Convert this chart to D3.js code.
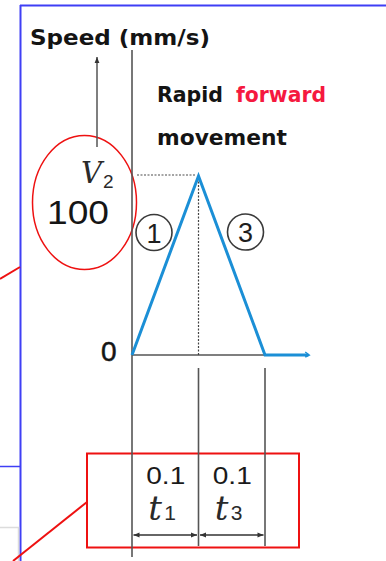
<!DOCTYPE html>
<html>
<head>
<meta charset="utf-8">
<script src="https://cdn.jsdelivr.net/npm/d3@7"></script>
<style>
  html, body { margin: 0; padding: 0; background: #fff; }
  svg { display: block; }
</style>
</head>
<body>
<div id="chart"></div>
<script>
// Speed profile of a rapid forward movement: accelerate (1), decelerate (3)
const timePoints = [0, 0.1, 0.2, 0.265];   // s
const speedValues = [0, 100, 0, 0];        // mm/s
const yTickValues = [0, 100];
const yTickLabels = ["0", "100"];
const phaseNumbers = ["1", "3"];
const phaseStart = [0, 0.1];
const phaseDurations = [0.1, 0.1];
const durationLabels = ["0.1", "0.1"];
const durationSubs = ["1", "3"];

const W = 386, H = 561;
const svg = d3.select("#chart").append("svg").attr("width", W).attr("height", H);

const x = d3.scaleLinear().domain([0, 0.2]).range([132, 265]);
const y = d3.scaleLinear().domain([0, 100]).range([355, 176]);

const axisColor = "#555";
const lineBlue = "#1b8fd6";
const frameBlue = "#3f3ff5";
const red = "#ee1111";

// arrow markers
const defs = svg.append("defs");
defs.append("marker").attr("id", "arrEnd").attr("viewBox", "0 0 10 10")
  .attr("refX", 10).attr("refY", 5).attr("markerWidth", 8).attr("markerHeight", 6)
  .attr("markerUnits", "userSpaceOnUse").attr("orient", "auto")
  .append("path").attr("d", "M0,1 L10,5 L0,9 Z").attr("fill", "#333");
defs.append("marker").attr("id", "arrStart").attr("viewBox", "0 0 10 10")
  .attr("refX", 0).attr("refY", 5).attr("markerWidth", 8).attr("markerHeight", 6)
  .attr("markerUnits", "userSpaceOnUse").attr("orient", "auto")
  .append("path").attr("d", "M10,1 L0,5 L10,9 Z").attr("fill", "#333");

// surrounding frame lines
svg.append("line").attr("x1", 20).attr("y1", 5.5).attr("x2", W).attr("y2", 5.5)
  .attr("stroke", frameBlue).attr("stroke-width", 2);
svg.append("line").attr("x1", 20.5).attr("y1", 5).attr("x2", 20.5).attr("y2", H)
  .attr("stroke", frameBlue).attr("stroke-width", 2);
svg.append("line").attr("x1", 0).attr("y1", 466.5).attr("x2", 20).attr("y2", 466.5)
  .attr("stroke", frameBlue).attr("stroke-width", 1.5);
svg.append("path").attr("d", "M0,527.5 H18.5 V561")
  .attr("fill", "none").attr("stroke", "#dcdcdc").attr("stroke-width", 1.5);

// red callout marks
svg.append("line").attr("x1", 0).attr("y1", 279).attr("x2", 20).attr("y2", 267)
  .attr("stroke", red).attr("stroke-width", 2);
svg.append("line").attr("x1", 13).attr("y1", 561).attr("x2", 87).attr("y2", 502)
  .attr("stroke", red).attr("stroke-width", 2);
svg.append("ellipse").attr("cx", 84.5).attr("cy", 202.5).attr("rx", 52).attr("ry", 67)
  .attr("fill", "none").attr("stroke", red).attr("stroke-width", 1.5);
svg.append("rect").attr("x", 87).attr("y", 453.5).attr("width", 212).attr("height", 94)
  .attr("fill", "none").attr("stroke", red).attr("stroke-width", 2);

const boldText = (tx, ty, len, color, s) =>
  svg.append("text").attr("x", tx).attr("y", ty)
    .attr("font-family", "DejaVu Sans").attr("font-weight", "bold").attr("font-size", 22)
    .attr("fill", color).attr("textLength", len).attr("lengthAdjust", "spacingAndGlyphs")
    .text(s);

// axis title and arrow
boldText(30, 45, 180, "#141414", "Speed (mm/s)");
svg.append("line").attr("x1", 97).attr("y1", 147).attr("x2", 97).attr("y2", 57)
  .attr("stroke", "#555").attr("stroke-width", 1.5).attr("marker-end", "url(#arrEnd)");

// annotation text
boldText(157, 102, 66, "#141414", "Rapid");
boldText(236, 102, 90, "#f5193f", "forward");
boldText(157, 145, 130, "#141414", "movement");

// vertical axis and base line
svg.append("line").attr("x1", x(0)).attr("y1", 50).attr("x2", x(0)).attr("y2", 557)
  .attr("stroke", axisColor).attr("stroke-width", 1.6);
svg.append("line").attr("x1", x(0)).attr("y1", y(0)).attr("x2", x(0.2)).attr("y2", y(0))
  .attr("stroke", axisColor).attr("stroke-width", 1.6);

// y tick labels
svg.append("text").attr("x", 101).attr("y", y(yTickValues[0]) + 6)
  .attr("font-family", "Liberation Sans").attr("font-size", 28)
  .attr("fill", "#151515").attr("stroke", "#151515").attr("stroke-width", 0.5)
  .text(yTickLabels[0]);
svg.append("text").attr("x", 47).attr("y", 224)
  .attr("font-family", "Liberation Sans").attr("font-size", 33)
  .attr("fill", "#151515").attr("textLength", 62).attr("lengthAdjust", "spacingAndGlyphs")
  .text(yTickLabels[1]);

// V2 symbol
const v2 = svg.append("text").attr("x", 81).attr("y", 183).attr("fill", "#2a2a2a");
v2.append("tspan").attr("font-family", "DejaVu Serif").attr("font-style", "italic")
  .attr("font-size", 29).text("V");
v2.append("tspan").attr("x", 103).attr("y", 188).attr("font-family", "Liberation Sans")
  .attr("font-size", 19).text("2");

// peak guide lines
const peakIdx = speedValues.indexOf(d3.max(speedValues));
svg.append("line").attr("x1", x(0) + 5).attr("y1", y(speedValues[peakIdx]) - 1)
  .attr("x2", x(timePoints[peakIdx]) - 3).attr("y2", y(speedValues[peakIdx]) - 1)
  .attr("stroke", "#888").attr("stroke-width", 1.3).attr("stroke-dasharray", "2,1.5");
svg.append("line").attr("x1", x(timePoints[peakIdx])).attr("y1", y(speedValues[peakIdx]) + 2)
  .attr("x2", x(timePoints[peakIdx])).attr("y2", y(0))
  .attr("stroke", "#444").attr("stroke-width", 1.2).attr("stroke-dasharray", "2,1.5");

// speed profile
const pts = timePoints.map((t, i) => [t, speedValues[i]]);
svg.append("path").datum(pts)
  .attr("d", d3.line().x(d => x(d[0])).y(d => y(d[1])))
  .attr("fill", "none").attr("stroke", lineBlue).attr("stroke-width", 3)
  .attr("stroke-linejoin", "miter");
// tiny arrow tip at end of profile
const last = pts[pts.length - 1];
svg.append("path")
  .attr("d", `M${x(last[0]) - 3},${y(0) - 3} L${x(last[0]) + 1},${y(0)} L${x(last[0]) - 3},${y(0) + 2}`)
  .attr("fill", "none").attr("stroke", lineBlue).attr("stroke-width", 1.5);

// circled phase numbers
const circlePos = [[154, 232.5], [245.5, 232]];
phaseNumbers.forEach((n, i) => {
  const g = svg.append("g").attr("transform", `translate(${circlePos[i][0]},${circlePos[i][1]})`);
  g.append("circle").attr("r", 18).attr("fill", "none").attr("stroke", "#3a3a3a").attr("stroke-width", 1.6);
  g.append("text").attr("text-anchor", "middle").attr("y", 10)
    .attr("font-family", "Liberation Sans").attr("font-size", 27).attr("fill", "#1e1e1e").text(n);
});

// phase boundary lines below the profile
phaseStart.forEach((s, i) => {
  const xe = x(s + phaseDurations[i]);
  svg.append("line").attr("x1", xe).attr("y1", 368).attr("x2", xe).attr("y2", 546)
    .attr("stroke", axisColor).attr("stroke-width", 1.6);
});

// duration labels and dimension arrows
phaseStart.forEach((s, i) => {
  const x0 = x(s), x1 = x(s + phaseDurations[i]);
  const cx = (x0 + x1) / 2;
  svg.append("text").attr("x", cx + 0.5).attr("y", 484).attr("text-anchor", "middle")
    .attr("font-family", "Liberation Sans").attr("font-size", 23).attr("fill", "#1a1a1a")
    .attr("textLength", 39).attr("lengthAdjust", "spacingAndGlyphs")
    .text(durationLabels[i]);
  const t = svg.append("text").attr("x", cx - 17).attr("y", 520).attr("fill", "#2a2a2a");
  t.append("tspan").attr("font-family", "DejaVu Serif").attr("font-style", "italic")
    .attr("font-size", 34).text("t");
  t.append("tspan").attr("x", cx - 1).attr("font-family", "Liberation Sans")
    .attr("font-size", 21).text(durationSubs[i]);
  svg.append("line").attr("x1", x0 + 1.5).attr("y1", 535).attr("x2", x1 - 1.5).attr("y2", 535)
    .attr("stroke", "#333").attr("stroke-width", 1.3)
    .attr("marker-start", "url(#arrStart)").attr("marker-end", "url(#arrEnd)");
});
</script>
</body>
</html>
